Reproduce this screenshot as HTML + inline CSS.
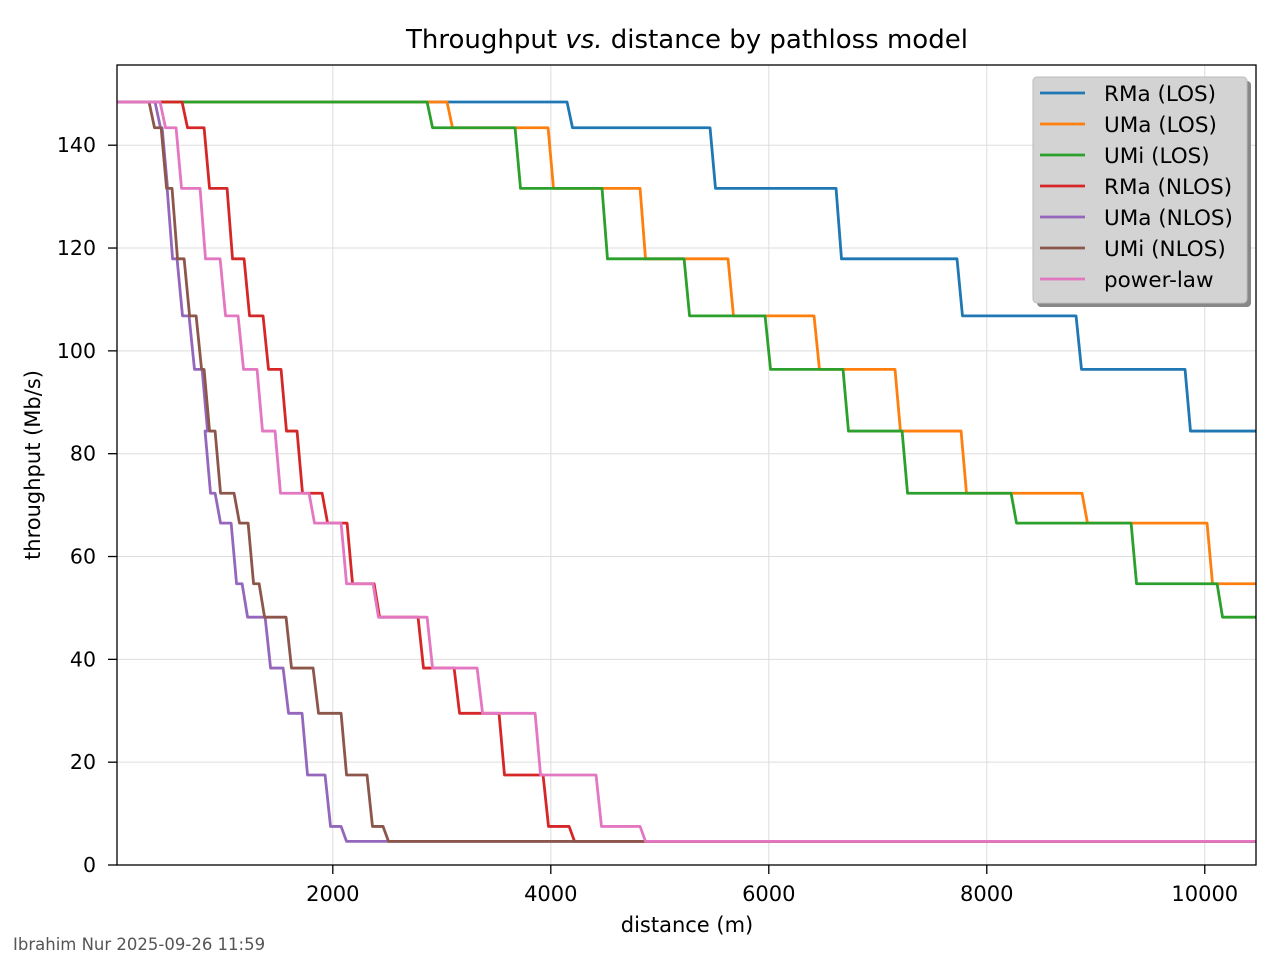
<!DOCTYPE html>
<html><head><meta charset="utf-8"><style>
body{margin:0;background:#fff;}
svg{display:block;font-family:"DejaVu Sans","Liberation Sans",sans-serif;}
</style></head><body>
<svg id="chart" width="1280" height="960" viewBox="0 0 1280 960">
<rect width="1280" height="960" fill="#fff"/>
<text x="687" y="48" text-anchor="middle" font-size="26" fill="#000">Throughput <tspan font-style="italic">vs.</tspan> distance by pathloss model</text>
<g id="grid"></g>
<g id="series"></g>
<rect x="117" y="65" width="1139" height="800" fill="none" stroke="#000" stroke-width="1.3"/>
<g id="ticks"></g>
<text x="687" y="932" text-anchor="middle" font-size="21">distance (m)</text>
<text transform="translate(40,465) rotate(-90)" text-anchor="middle" font-size="21">throughput (Mb/s)</text>
<g id="legend"></g>
<text x="13" y="950" font-size="16.5" fill="#555">Ibrahim Nur 2025-09-26 11:59</text>
</svg>
<script>
const levels=[148.4,143.4,131.6,117.9,106.8,96.4,84.4,72.3,66.5,54.7,48.2,38.3,29.5,17.5,7.5,4.6];
const seriesNames=["RMa (LOS)","UMa (LOS)","UMi (LOS)","RMa (NLOS)","UMa (NLOS)","UMi (NLOS)","power-law"];
const seriesColors=["#1f77b4","#ff7f0e","#2ca02c","#d62728","#9467bd","#8c564b","#e377c2"];
const rmaLos=[4174,5486,6642,7752,8844,9844];
const umaLos=[3073,4000,4844,5651,6440,7183,7789,8899,10046];
const umiLos=[2890,3697,4495,5248,5991,6706,7248,8248,9349,10138];
const rmaNlos=[642,844,1055,1211,1385,1550,1697,1927,2156,2404,2807,3138,3550,3954,4193];
const umaNlos=[394,459,505,596,706,826,853,945,1092,1193,1404,1569,1743,1954,2101];
const umiNlos=[339,450,550,661,771,844,945,1119,1248,1349,1596,1844,2101,2339,2486];
const powerLaw=[440,587,807,991,1156,1330,1495,1807,2101,2394,2890,3349,3881,4440,4844];
const drops=[rmaLos,umaLos,umiLos,rmaNlos,umaNlos,umiNlos,powerLaw];
const xTicks=[2000,4000,6000,8000,10000];
const yTicks=[0,20,40,60,80,100,120,140];
const xMin=20,xMax=10470,yMin=0,yMax=155.6;
const L=117,R=1256,T=65,B=865;
const sx=v=>L+(v-xMin)/(xMax-xMin)*(R-L);
const sy=v=>B-(v-yMin)/(yMax-yMin)*(B-T);
const NS="http://www.w3.org/2000/svg";
function mk(tag,attrs,parent){const e=document.createElementNS(NS,tag);for(const k in attrs)e.setAttribute(k,attrs[k]);parent.appendChild(e);return e;}
const grid=document.getElementById('grid'),ticks=document.getElementById('ticks'),ser=document.getElementById('series'),leg=document.getElementById('legend');
xTicks.forEach(v=>{
 const g=mk('line',{x1:sx(v),x2:sx(v),y1:T,y2:B,stroke:'#ddd','stroke-width':1},grid);
 
 
 mk('line',{x1:sx(v),x2:sx(v),y1:B,y2:B+9,stroke:'#000','stroke-width':1.3},ticks);
 const t=mk('text',{x:sx(v),y:B+36,'text-anchor':'middle','font-size':21},ticks);t.textContent=v;
 
 
});
yTicks.forEach(v=>{
 const g=mk('line',{x1:L,x2:R,y1:sy(v),y2:sy(v),stroke:'#ddd','stroke-width':1},grid);
 
 
 mk('line',{x1:L-9,x2:L,y1:sy(v),y2:sy(v),stroke:'#000','stroke-width':1.3},ticks);
 const t=mk('text',{x:L-21,y:sy(v)+7,'text-anchor':'end','font-size':20.5},ticks);t.textContent=v;
 
 
});
drops.forEach((d,i)=>{
 let pts=[[sx(xMin),sy(levels[0])]];
 d.forEach((x,j)=>{pts.push([sx(x-25),sy(levels[j])]);pts.push([sx(x+25),sy(levels[j+1])]);});
 pts.push([sx(xMax),sy(levels[d.length])]);
 const p=mk('polyline',{points:pts.map(p=>p.join(',')).join(' '),fill:'none',stroke:seriesColors[i],'stroke-width':2.8,'stroke-linejoin':'round'},ser);
 
 
});
mk('rect',{x:1037,y:81,width:214,height:226,rx:4,fill:'#888'},leg);
const box=mk('rect',{x:1033,y:77,width:214,height:226,rx:4,fill:'#d3d3d3',stroke:'#bbb'},leg);


seriesNames.forEach((n,i)=>{
 const y=93+i*31;
 mk('line',{x1:1040,x2:1085,y1:y,y2:y,stroke:seriesColors[i],'stroke-width':2.8},leg);
 const t=mk('text',{x:1104,y:y+8,'font-size':21.5},leg);t.textContent=n;
 
 
});
</script>
</body></html>
